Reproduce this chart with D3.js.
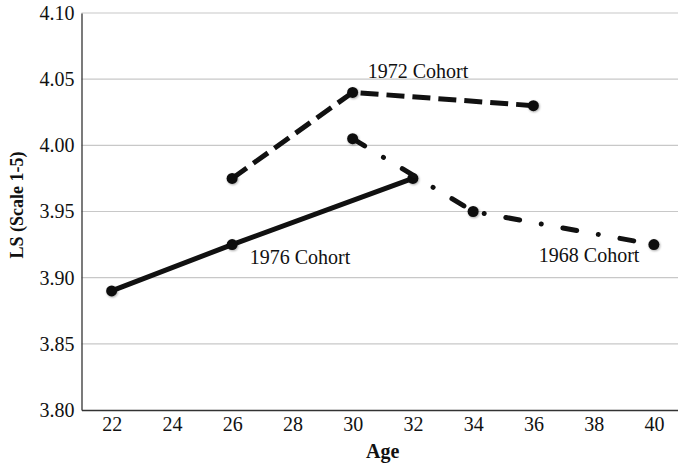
<!DOCTYPE html>
<html>
<head>
<meta charset="utf-8">
<script src="https://cdn.jsdelivr.net/npm/d3@7"></script>
<style>
	body { margin: 0; background: #fff; }
	text { font-family: "Liberation Serif", "Times New Roman", serif; fill: #111; }
</style>
</head>
<body>
<svg id="chart" width="678" height="466"></svg>
<script>
//	data
var xTicks = [22, 24, 26, 28, 30, 32, 34, 36, 38, 40];
var yTicks = [3.80, 3.85, 3.90, 3.95, 4.00, 4.05, 4.10];

var ages1976 = [22, 26, 32];
var ls1976   = [3.89, 3.925, 3.975];
var ages1972 = [26, 30, 36];
var ls1972   = [3.975, 4.04, 4.03];
var ages1968 = [30, 34, 40];
var ls1968   = [4.005, 3.95, 3.925];

var cohortNames = ["1976 Cohort", "1972 Cohort", "1968 Cohort"];

var svg = d3.select("#chart");

//	soft shadow under the markers
var f = svg.append("defs").append("filter").attr("id", "shadow")
	.attr("x", "-50%").attr("y", "-50%").attr("width", "200%").attr("height", "200%");
f.append("feDropShadow").attr("dx", 0.8).attr("dy", 1).attr("stdDeviation", 1.2)
	.attr("flood-color", "#000").attr("flood-opacity", 0.35);

//	plot area, right side runs off the picture like the original
var x = d3.scaleLinear().domain([21, 41]).range([81.5, 684]);
var y = d3.scaleLinear().domain([3.80, 4.10]).range([410, 13]);

//	grid lines
svg.append("g").selectAll("line")
	.data(yTicks.slice(1))
	.enter().append("line")
	.attr("x1", x(21)).attr("x2", 678)
	.attr("y1", function(d){ return y(d); })
	.attr("y2", function(d){ return y(d); })
	.attr("stroke", "#c8c8c8").attr("stroke-width", 1.2);

//	axes
var yAxis = d3.axisLeft(y).tickValues(yTicks).tickFormat(d3.format(".2f")).tickSize(0).tickPadding(7);
var gy = svg.append("g").attr("transform", "translate(" + x(21) + ",0)").call(yAxis);
gy.select(".domain").attr("stroke", "#333").attr("stroke-width", 1.3);
gy.selectAll("text").style("font-size", "20px").style("font-family", "Liberation Serif");

var xAxis = d3.axisBottom(x).tickValues(xTicks).tickSize(0).tickPadding(7).tickSizeOuter(0);
var gx = svg.append("g").attr("transform", "translate(0," + y(3.80) + ")").call(xAxis);
gx.select(".domain").attr("stroke", "#333").attr("stroke-width", 1.3);
gx.selectAll("text").style("font-size", "20px").style("font-family", "Liberation Serif");

//	axis titles
svg.append("text").attr("x", x(31)).attr("y", 458)
	.attr("text-anchor", "middle").style("font-size", "20px").style("font-weight", "bold")
	.text("Age");
svg.append("text").attr("transform", "translate(23,205) rotate(-90)")
	.attr("text-anchor", "middle").style("font-size", "18px").style("font-weight", "bold")
	.text("LS (Scale 1-5)");

//	cohort lines
var series = [
	{ages: ages1976, ls: ls1976, dash: null, cap: "butt"},
	{ages: ages1972, ls: ls1972, dash: "18,8", cap: "butt"},
	{ages: ages1968, ls: ls1968, dash: "14,22,0.01,22", cap: "round"}
];

var line = d3.line()
	.x(function(d){ return x(d[0]); })
	.y(function(d){ return y(d[1]); });

series.forEach(function(s){
	var pts = d3.zip(s.ages, s.ls);
	svg.append("path").datum(pts)
		.attr("d", line)
		.attr("fill", "none")
		.attr("stroke", "#111")
		.attr("stroke-width", 5)
		.attr("stroke-linecap", s.cap)
		.attr("stroke-dasharray", s.dash);
	svg.append("g").attr("filter", "url(#shadow)").selectAll("circle")
		.data(pts)
		.enter().append("circle")
		.attr("cx", function(d){ return x(d[0]); })
		.attr("cy", function(d){ return y(d[1]); })
		.attr("r", 5.5)
		.attr("fill", "#111");
});

//	cohort labels
svg.append("text").attr("x", x(32.17)).attr("y", y(4.051)).attr("text-anchor", "middle")
	.style("font-size", "20px").text(cohortNames[1]);
svg.append("text").attr("x", x(28.25)).attr("y", y(3.910)).attr("text-anchor", "middle")
	.style("font-size", "20px").text(cohortNames[0]);
svg.append("text").attr("x", x(37.85)).attr("y", y(3.912)).attr("text-anchor", "middle")
	.style("font-size", "20px").text(cohortNames[2]);
</script>
</body>
</html>
